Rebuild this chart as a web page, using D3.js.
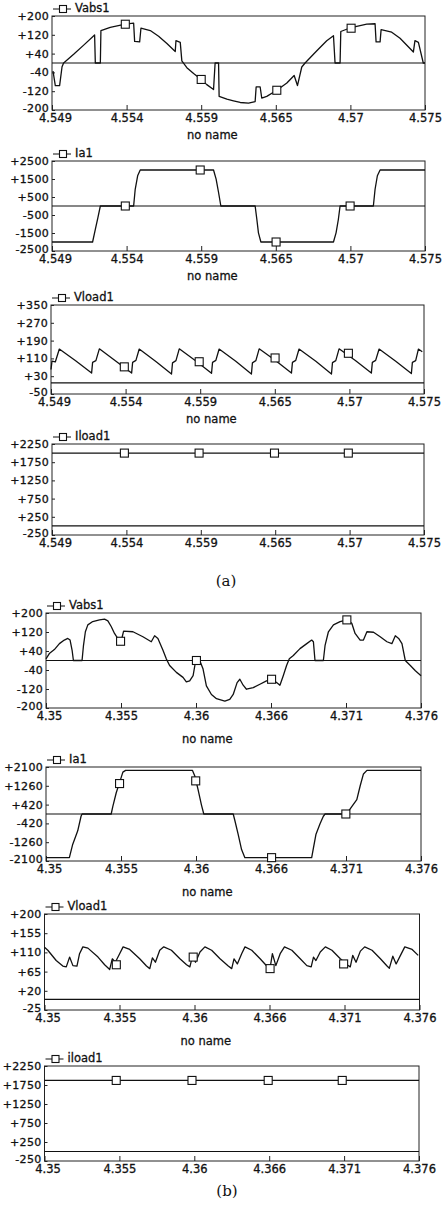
<!DOCTYPE html>
<html>
<head>
<meta charset="utf-8">
<script src="https://cdn.jsdelivr.net/npm/d3@7"></script>
<style>
  body { margin: 0; background: #fff; }
  svg { display: block; font-family: "DejaVu Sans", "Liberation Sans", sans-serif; }
  svg text { fill: #111; stroke: #111; stroke-width: 0.3px; }
  .frame { fill: none; stroke: #222; stroke-width: 1; }
  .zero { stroke: #111; stroke-width: 1.1; }
  .trace { fill: none; stroke: #111; stroke-width: 1.3; stroke-linejoin: round; }
  .mark { fill: #fff; stroke: #111; stroke-width: 1.1; }
  .tick line { stroke: #222; }
</style>
</head>
<body>
<div id="chart"></div>
<script>
// time ticks, (a) and (b)
var tickTimesA = [4.549, 4.5542, 4.5594, 4.5646, 4.5698, 4.575];
var tickLabelsA = ["4.549", "4.554", "4.559", "4.565", "4.57", "4.575"];
var tickTimesB = [4.35, 4.3552, 4.3604, 4.3656, 4.3708, 4.376];
var tickLabelsB = ["4.35", "4.355", "4.36", "4.366", "4.371", "4.376"];

// y ticks per panel
var vabsTicks = [-200, -120, -40, 40, 120, 200];
var iaTicksA = [-2500, -1500, -500, 500, 1500, 2500];
var vloadTicksA = [-50, 30, 110, 190, 270, 350];
var iloadTicks = [-250, 250, 750, 1250, 1750, 2250];
var iaTicksB = [-2100, -1260, -420, 420, 1260, 2100];
var vloadTicksB = [-25, 20, 65, 110, 155, 200];

// (a) traces, [time, value]
var vabsA = [[4.54907,-34],[4.54923,-96],[4.54953,-96],[4.5497,-16],[4.54981,0],[4.55051,37],[4.55121,76],[4.55197,119],[4.55202,0],[4.55237,0],[4.55241,138],[4.55306,152],[4.55411,165],[4.55469,170],[4.55476,92],[4.55511,90],[4.5552,148],[4.55585,138],[4.55643,114],[4.55701,83],[4.55759,49],[4.55764,95],[4.55794,88],[4.55805,9],[4.5584,-20],[4.55887,-45],[4.5594,-70],[4.55979,-92],[4.56026,-113],[4.56037,0],[4.56061,0],[4.56065,-142],[4.56119,-154],[4.56165,-161],[4.56212,-168],[4.5627,-171],[4.56316,-164],[4.56323,-102],[4.56351,-102],[4.56362,-149],[4.56397,-142],[4.56467,-116],[4.56537,-85],[4.56588,-53],[4.56611,-96],[4.56641,-17],[4.56664,0],[4.56746,52],[4.56815,95],[4.56862,116],[4.56873,0],[4.56908,0],[4.56913,134],[4.56985,151],[4.57094,165],[4.57152,167],[4.57159,90],[4.57187,90],[4.57194,142],[4.57268,131],[4.57326,105],[4.57419,47],[4.5743,95],[4.57454,88],[4.57488,0],[4.575,0]];
var vabsAMarks = [[4.55411,165],[4.5594,-70],[4.56467,-116],[4.56985,148]];

var iaA = [[4.549,-2000],[4.55183,-2000],[4.55202,-1300],[4.5522,-650],[4.55237,0],[4.55469,0],[4.5548,930],[4.55497,1680],[4.55515,2000],[4.56026,2000],[4.56044,1490],[4.56061,750],[4.56077,0],[4.56316,0],[4.56328,-750],[4.56339,-1490],[4.56356,-2000],[4.56862,-2000],[4.5688,-1490],[4.56896,-750],[4.56908,0],[4.5714,0],[4.57152,930],[4.57168,1680],[4.57187,2000],[4.575,2000]];
var iaAMarks = [[4.55411,0],[4.55933,2000],[4.56462,-2000],[4.56978,0]];

var vloadA = [[4.549,60],[4.54907,98],[4.5493,94],[4.54958,152],
  [4.55074,98],[4.55183,44],[4.5519,92],[4.55213,100],[4.55237,153],
  [4.55353,97],[4.55462,44],[4.55469,92],[4.55492,101],[4.55515,152],
  [4.55631,96],[4.5574,40],[4.55747,90],[4.55771,100],[4.55794,153],
  [4.5591,98],[4.56019,43],[4.56026,92],[4.56049,101],[4.56072,152],
  [4.56188,97],[4.56297,40],[4.56304,90],[4.56328,100],[4.56351,153],
  [4.56467,99],[4.56576,44],[4.56583,92],[4.56606,101],[4.56629,152],
  [4.56746,97],[4.56855,40],[4.56862,91],[4.56885,100],[4.56908,153],
  [4.57024,99],[4.57133,44],[4.5714,92],[4.57163,101],[4.57187,152],
  [4.57303,97],[4.57412,42],[4.57419,92],[4.57442,100],[4.57461,152],[4.57488,140]];
var vloadAMarks = [[4.55411,72],[4.55933,95],[4.56462,112],[4.56973,133]];

var iloadA = [[4.549,2000],[4.575,2000]];
var iloadAMarks = [[4.55406,2000],[4.55928,2000],[4.56455,2000],[4.56971,2000]];

// (b) traces
var vabsB = [[4.35,7],[4.35023,29],[4.35058,46],[4.35093,71],[4.35127,86],[4.35151,93],[4.35167,86],[4.35181,43],[4.3519,0],[4.3525,0],[4.3526,64],[4.35273,121],[4.3529,150],[4.35324,164],[4.35371,171],[4.35406,174],[4.35429,167],[4.35452,143],[4.35475,114],[4.35505,86],[4.35521,81],[4.35538,124],[4.35603,121],[4.35672,100],[4.3573,79],[4.35753,104],[4.35776,93],[4.35811,43],[4.35834,7],[4.35857,-21],[4.35904,-50],[4.3595,-71],[4.35973,-90],[4.35996,-86],[4.3602,-64],[4.36038,0],[4.36066,0],[4.36089,-36],[4.36112,-107],[4.36147,-143],[4.36182,-161],[4.3624,-171],[4.36274,-164],[4.36298,-143],[4.36325,-93],[4.36344,-79],[4.36367,-104],[4.3639,-121],[4.36437,-114],[4.36483,-100],[4.36529,-86],[4.36564,-79],[4.36599,-93],[4.36622,-104],[4.36645,-64],[4.36668,-21],[4.36687,7],[4.36715,21],[4.36761,50],[4.36808,71],[4.36842,86],[4.36854,79],[4.36865,0],[4.36923,0],[4.36935,64],[4.36958,121],[4.36993,150],[4.37039,164],[4.37086,171],[4.3712,157],[4.37143,114],[4.37178,86],[4.37201,86],[4.37225,121],[4.37271,119],[4.37317,100],[4.37364,79],[4.37398,71],[4.37422,104],[4.37445,93],[4.37468,71],[4.37491,0],[4.37526,-21],[4.37561,-43],[4.376,-64]];
var vabsBMarks = [[4.35517,81],[4.36043,0],[4.36564,-79],[4.37086,171]];

var iaB = [[4.35,-1950],[4.35162,-1950],[4.35185,-1360],[4.3522,-750],[4.35243,-100],[4.3525,0],[4.35452,0],[4.35463,330],[4.35487,950],[4.3551,1400],[4.35533,1870],[4.35552,1950],[4.36015,1950],[4.36031,1710],[4.36054,1100],[4.36078,400],[4.36094,0],[4.36298,0],[4.36309,-280],[4.36332,-900],[4.36356,-1590],[4.36379,-1950],[4.36842,-1950],[4.36854,-1520],[4.36872,-900],[4.369,-440],[4.36923,-100],[4.36935,0],[4.37062,0],[4.37086,20],[4.3712,330],[4.37155,640],[4.37178,1250],[4.37201,1790],[4.37225,1950],[4.376,1950]];
var iaBMarks = [[4.3551,1360],[4.36038,1480],[4.36564,-1950],[4.37079,0]];

var vloadB = [[4.35,122],[4.35023,115],[4.35081,91],[4.35127,78],[4.35151,76],[4.35174,99],[4.35197,79],[4.35225,78],[4.35243,107],[4.35266,123],[4.35301,120],[4.35371,99],[4.35417,81],[4.35452,70],[4.3547,95],[4.35491,87],[4.35521,107],[4.35545,123],[4.35591,117],[4.3566,95],[4.35707,78],[4.3573,72],[4.35748,97],[4.35769,87],[4.35799,115],[4.35827,123],[4.3588,115],[4.35939,95],[4.35985,81],[4.36008,76],[4.36027,103],[4.36047,87],[4.36078,111],[4.36112,123],[4.36159,115],[4.36217,95],[4.36274,78],[4.36298,72],[4.36314,95],[4.36337,83],[4.36367,107],[4.3639,123],[4.36437,115],[4.36495,95],[4.36541,78],[4.36564,73],[4.3658,107],[4.36604,79],[4.36634,107],[4.36664,123],[4.36715,115],[4.36773,95],[4.36819,79],[4.36849,76],[4.36865,99],[4.36882,91],[4.36912,111],[4.36947,123],[4.36993,115],[4.37051,95],[4.37097,81],[4.3712,76],[4.37137,103],[4.3716,87],[4.3719,113],[4.3722,123],[4.37271,115],[4.37329,95],[4.37375,78],[4.37391,73],[4.37415,101],[4.37438,83],[4.37468,103],[4.37498,123],[4.37549,117],[4.37591,103]];
var vloadBMarks = [[4.35498,81],[4.36031,99],[4.36564,72],[4.37074,83]];

var iloadB = [[4.35,1870],[4.376,1870]];
var iloadBMarks = [[4.35498,1870],[4.36024,1870],[4.36553,1870],[4.37067,1870]];

// panel layout (pixels)
var panels = [
  {name: "Vabs1",  data: vabsA,  marks: vabsAMarks,  yTicks: vabsTicks,   set: "a", top: 16,   bottom: 110,  left: 52,   right: 425, noName: true},
  {name: "Ia1",    data: iaA,    marks: iaAMarks,    yTicks: iaTicksA,    set: "a", top: 161,  bottom: 251,  left: 52,   right: 425, noName: true},
  {name: "Vload1", data: vloadA, marks: vloadAMarks, yTicks: vloadTicksA, set: "a", top: 305,  bottom: 394,  left: 51,   right: 424, noName: true},
  {name: "Iload1", data: iloadA, marks: iloadAMarks, yTicks: iloadTicks,  set: "a", top: 444,  bottom: 535,  left: 52,   right: 424, noName: false},
  {name: "Vabs1",  data: vabsB,  marks: vabsBMarks,  yTicks: vabsTicks,   set: "b", top: 613,  bottom: 708,  left: 46,   right: 421, noName: true},
  {name: "Ia1",    data: iaB,    marks: iaBMarks,    yTicks: iaTicksB,    set: "b", top: 767,  bottom: 861,  left: 46,   right: 421, noName: true},
  {name: "Vload1", data: vloadB, marks: vloadBMarks, yTicks: vloadTicksB, set: "b", top: 914,  bottom: 1010, left: 44.5, right: 419.5, noName: true},
  {name: "iload1", data: iloadB, marks: iloadBMarks, yTicks: iloadTicks,  set: "b", top: 1066, bottom: 1161, left: 44.5, right: 419, noName: false}
];

var fmtY = function(d) { return (d > 0 ? "+" : "") + d; };

var svg = d3.select("#chart").append("svg")
  .attr("width", 448)
  .attr("height", 1212);

panels.forEach(function(p) {
  var ticksT = p.set == "a" ? tickTimesA : tickTimesB;
  var labelsT = p.set == "a" ? tickLabelsA : tickLabelsB;

  var x = d3.scaleLinear()
    .domain([ticksT[0], ticksT[ticksT.length - 1]])
    .range([p.left, p.right]);
  var y = d3.scaleLinear()
    .domain([p.yTicks[0], p.yTicks[p.yTicks.length - 1]])
    .range([p.bottom, p.top]);

  var g = svg.append("g");

  g.append("rect")
    .attr("class", "frame")
    .attr("x", p.left)
    .attr("y", p.top)
    .attr("width", p.right - p.left)
    .attr("height", p.bottom - p.top);

  // zero reference line
  g.append("line")
    .attr("class", "zero")
    .attr("x1", p.left).attr("x2", p.right)
    .attr("y1", y(0)).attr("y2", y(0));

  var xAxis = g.append("g")
    .attr("transform", "translate(0," + p.bottom + ")")
    .call(d3.axisBottom(x)
      .tickValues(ticksT)
      .tickFormat(function(d, i) { return labelsT[i]; })
      .tickSizeInner(-5)
      .tickSizeOuter(0)
      .tickPadding(4));
  xAxis.select(".domain").remove();
  xAxis.selectAll("text")
    .style("font-size", "11.5px")
    .style("font-family", "'DejaVu Sans', sans-serif");
  // first label sits a little right of its tick, as in the plot
  xAxis.select(".tick text").attr("x", 3);

  var yAxis = g.append("g")
    .attr("transform", "translate(" + p.left + ",0)")
    .call(d3.axisLeft(y)
      .tickValues(p.yTicks)
      .tickFormat(fmtY)
      .tickSizeInner(-3)
      .tickSizeOuter(0)
      .tickPadding(3));
  yAxis.select(".domain").remove();
  yAxis.selectAll("text")
    .style("font-size", "11px")
    .style("letter-spacing", "0.3px")
    .style("font-family", "'DejaVu Sans', sans-serif");
  yAxis.select(".tick text").attr("dy", "0.15em");

  var line = d3.line()
    .x(function(d) { return x(d[0]); })
    .y(function(d) { return y(d[1]); });

  g.append("path")
    .datum(p.data)
    .attr("class", "trace")
    .attr("d", line);

  g.selectAll("rect.mark")
    .data(p.marks)
    .enter()
    .append("rect")
    .attr("class", "mark")
    .attr("x", function(d) { return x(d[0]) - 4; })
    .attr("y", function(d) { return y(d[1]) - 4; })
    .attr("width", 8)
    .attr("height", 8);

  // legend: line + square + name above the frame
  var ly = p.top - 7;
  g.append("line")
    .attr("x1", p.left + 1).attr("x2", p.left + 19)
    .attr("y1", ly).attr("y2", ly)
    .style("stroke", "#111");
  g.append("rect")
    .attr("class", "mark")
    .attr("x", p.left + 7.5).attr("y", ly - 3.5)
    .attr("width", 7).attr("height", 7);
  g.append("text")
    .attr("x", p.left + 23)
    .attr("y", p.top - 4)
    .style("font-size", "11.5px")
    .text(p.name);

  if (p.noName) {
    g.append("text")
      .attr("x", p.left + 0.43 * (p.right - p.left))
      .attr("y", p.bottom + (p.set == "a" ? 29 : 35))
      .attr("text-anchor", "middle")
      .style("font-size", "11.5px")
      .text("no name");
  }
});

svg.append("text")
  .attr("x", 226).attr("y", 586)
  .attr("text-anchor", "middle")
  .style("font-family", "'DejaVu Serif', serif")
  .style("font-size", "15px")
  .style("stroke-width", "0")
  .text("(a)");

svg.append("text")
  .attr("x", 227).attr("y", 1196)
  .attr("text-anchor", "middle")
  .style("font-family", "'DejaVu Serif', serif")
  .style("font-size", "15px")
  .style("stroke-width", "0")
  .text("(b)");
</script>
</body>
</html>
